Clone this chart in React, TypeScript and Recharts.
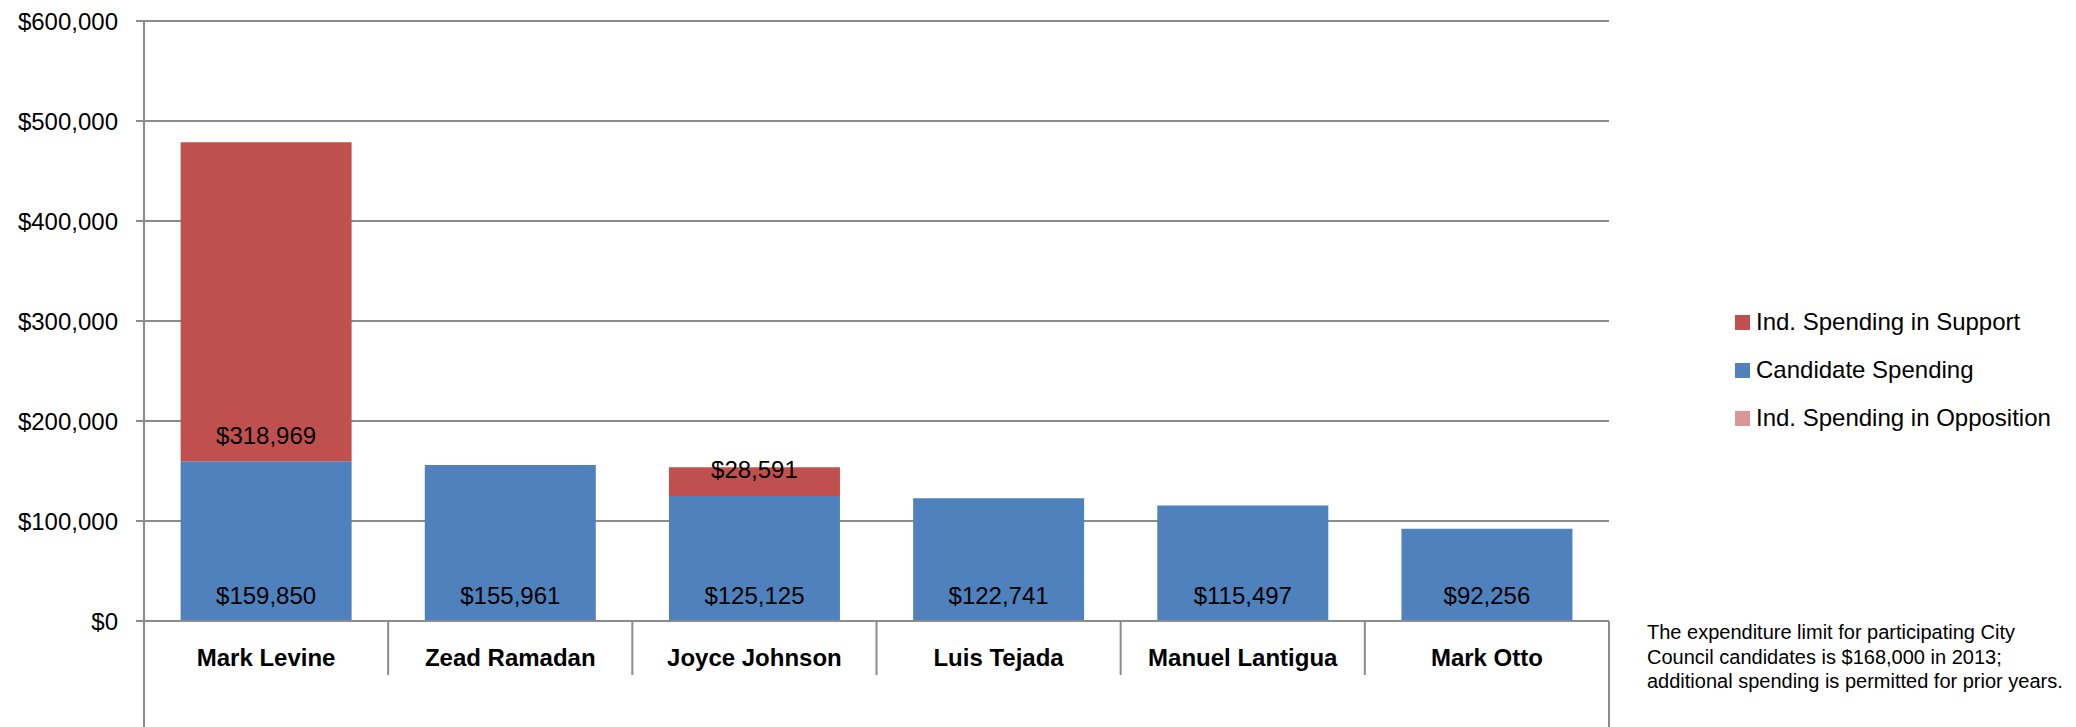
import React from 'react';
import { BarChart, Bar, XAxis, YAxis, CartesianGrid, Legend, LabelList } from 'recharts';

const candidates = ['Mark Levine', 'Zead Ramadan', 'Joyce Johnson', 'Luis Tejada', 'Manuel Lantigua', 'Mark Otto'];
const candidateSpending = [159850, 155961, 125125, 122741, 115497, 92256];
const supportSpending = [318969, 0, 28591, 0, 0, 0];
const oppositionSpending = [0, 0, 0, 0, 0, 0];
const yTicks = [0, 100000, 200000, 300000, 400000, 500000, 600000];

const seriesNames: Record<string, string> = {
  support: 'Ind. Spending in Support',
  candidate: 'Candidate Spending',
  opposition: 'Ind. Spending in Opposition',
};
const seriesColors: Record<string, string> = {
  support: '#C0504D',
  candidate: '#4F81BD',
  opposition: '#D99694',
};
const legendOrder = ['support', 'candidate', 'opposition'];
const noteLines = [
  'The expenditure limit for participating City',
  'Council candidates is $168,000 in 2013;',
  'additional spending is permitted for prior years.',
];

const data = candidates.map((name, i) => ({
  name,
  candidate: candidateSpending[i],
  support: supportSpending[i],
  opposition: oppositionSpending[i],
}));

const FONT = '"Liberation Sans", Arial, sans-serif';
const GRID = '#8c8c8c';
const fmt = (v: number) => '$' + v.toLocaleString('en-US');

const BaseLabel = (props: any) => {
  const { x, y, width, height, value } = props;
  if (!value) return null;
  return (
    <text
      x={x + width / 2}
      y={y + height - 26}
      textAnchor="middle"
      dominantBaseline="central"
      fontFamily={FONT}
      fontSize={24}
      fill="#000"
    >
      {fmt(value)}
    </text>
  );
};

const XTick = (props: any) => {
  const { x, y, payload, index, width, visibleTicksCount } = props;
  const half = payload && payload.offset ? payload.offset : width / visibleTicksCount / 2;
  const last = index === visibleTicksCount - 1;
  return (
    <g>
      <line
        x1={x - half}
        x2={x - half}
        y1={y}
        y2={index === 0 ? y + 106 : y + 54}
        stroke={GRID}
        strokeWidth={2}
      />
      {last && (
        <line x1={x + half} x2={x + half} y1={y} y2={y + 106} stroke={GRID} strokeWidth={2} />
      )}
      <text
        x={x}
        y={y + 36}
        textAnchor="middle"
        dominantBaseline="central"
        fontFamily={FONT}
        fontWeight="bold"
        fontSize={24}
        fill="#000"
      >
        {payload.value}
      </text>
    </g>
  );
};

const LegendContent = (props: any) => {
  const payload: any[] = props.payload || [];
  const items = legendOrder
    .map((k) => payload.find((p) => p.dataKey === k))
    .filter(Boolean);
  return (
    <div style={{ fontFamily: FONT, fontSize: 24, color: '#000' }}>
      {items.map((it: any) => (
        <div key={it.dataKey} style={{ display: 'flex', alignItems: 'center', height: 48, whiteSpace: 'nowrap' }}>
          <span style={{ display: 'inline-block', width: 15, height: 15, background: it.color, marginRight: 6 }} />
          <span>{it.value}</span>
        </div>
      ))}
    </div>
  );
};

export default function App() {
  return (
    <div style={{ position: 'absolute', left: 0, top: 0, width: 2076, height: 727, background: '#fff' }}>
      <BarChart
        width={2076}
        height={727}
        data={data}
        margin={{ top: 21, right: 467, bottom: 0, left: 0 }}
        barCategoryGap="15%"
      >
        <CartesianGrid horizontal vertical={false} stroke={GRID} strokeWidth={2} />
        <XAxis
          dataKey="name"
          height={106}
          tickLine={false}
          tickSize={0}
          tickMargin={0}
          axisLine={{ stroke: GRID, strokeWidth: 2 }}
          tick={<XTick />}
          interval={0}
        />
        <YAxis
          width={144}
          domain={[0, 600000]}
          ticks={yTicks}
          tickFormatter={fmt}
          tickSize={8}
          tickMargin={18}
          axisLine={{ stroke: GRID, strokeWidth: 2 }}
          tickLine={{ stroke: GRID, strokeWidth: 2 }}
          tick={{ fontFamily: FONT, fontSize: 24, fill: '#000' }}
          interval={0}
        />
        <Legend
          layout="vertical"
          align="center"
          verticalAlign="middle"
          content={<LegendContent />}
          wrapperStyle={{ position: 'absolute', left: 1735, top: 298, width: 340 }}
        />
        <Bar dataKey="candidate" name={seriesNames.candidate} stackId="a" fill={seriesColors.candidate} isAnimationActive={false}>
          <LabelList dataKey="candidate" content={<BaseLabel />} />
        </Bar>
        <Bar dataKey="support" name={seriesNames.support} stackId="a" fill={seriesColors.support} isAnimationActive={false}>
          <LabelList dataKey="support" content={<BaseLabel />} />
        </Bar>
        <Bar dataKey="opposition" name={seriesNames.opposition} stackId="a" fill={seriesColors.opposition} isAnimationActive={false} />
      </BarChart>
      <div
        style={{
          position: 'absolute',
          left: 1647,
          top: 620,
          fontFamily: FONT,
          fontSize: 20,
          lineHeight: '24.5px',
          color: '#000',
          whiteSpace: 'nowrap',
        }}
      >
        {noteLines.map((l) => (
          <div key={l}>{l}</div>
        ))}
      </div>
    </div>
  );
}
